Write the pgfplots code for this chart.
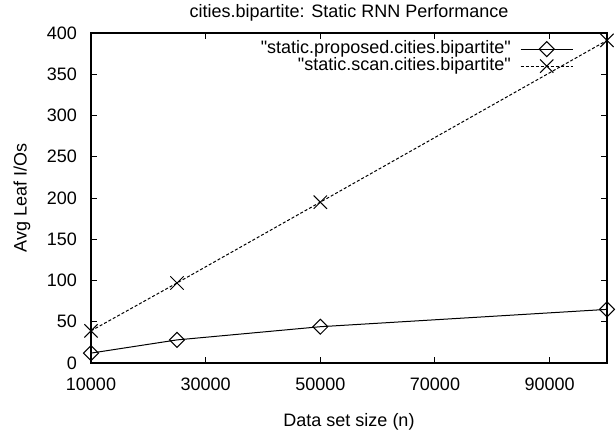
\documentclass[border=0pt]{standalone}
\usepackage{fontspec}
\setmainfont{Liberation Sans}[Ligatures=TeXOff]
\usepackage{pgfplots}
\pgfplotsset{compat=1.18}

\begin{document}
\begin{tikzpicture}
\begin{axis}[
    name=ax,
    scale only axis,
    width=258pt, height=165pt,
    font=\fontsize{9}{11}\selectfont,
    title={cities.bipartite: Static RNN Performance},
    every axis title/.style={at={(axis description cs:0.5,1)}, anchor=center, yshift=10pt},
    xlabel={Data set size (n)},
    xlabel style={at={([yshift=-29.5pt]axis description cs:0.5,0)}, anchor=center},
    ylabel={Avg Leaf I/Os},
    ylabel style={at={([xshift=-34.5pt]axis description cs:0,0.5)}, anchor=center},
    xmin=10000, xmax=100000,
    ymin=0, ymax=400,
    xtick={10000,30000,50000,70000,90000},
    ytick distance=50,
    scaled x ticks=false,
    /pgf/number format/assume math mode=true,
    xticklabel style={/pgf/number format/.cd, fixed, 1000 sep={}, /tikz/.cd, yshift=-4pt},
    yticklabel style={xshift=-3.5pt},
    tick align=inside,
    major tick length=3pt,
    axis line style={line width=0.7pt},
    tick style={line width=0.5pt, black},
    legend plot pos=right,
    legend cell align=right,
    legend style={draw=none, fill=none, at={(0.947,0.99)}, anchor=north east,
        row sep=0pt, nodes={inner sep=0.25pt, text height=6pt, text depth=2pt},
        /tikz/every odd column/.append style={column sep=4.5pt}},
    legend image code/.code={
        \draw[mark repeat=2, mark phase=2] plot coordinates {(0pt,0pt) (13pt,0pt) (26pt,0pt)};
    },
]
\addplot[black, line width=0.5pt, mark=square, mark size=2.65pt,
    mark options={solid, rotate=45, fill=none}] coordinates {
    (10000,12) (25000,28) (50000,44) (100000,65)
};
\addlegendentry{"static.proposed.cities.bipartite"}
\addplot[black, line width=0.5pt, dash pattern=on 1.5pt off 1pt, mark=x, mark size=4.7pt,
    mark options={solid}] coordinates {
    (10000,39) (25000,97) (50000,195) (100000,391)
};
\addlegendentry{"static.scan.cities.bipartite"}
\end{axis}
\pgfresetboundingbox
\path ([xshift=-45.5pt,yshift=-35pt]ax.south west) rectangle ([xshift=4.5pt,yshift=16.5pt]ax.north east);
\end{tikzpicture}
\end{document}
